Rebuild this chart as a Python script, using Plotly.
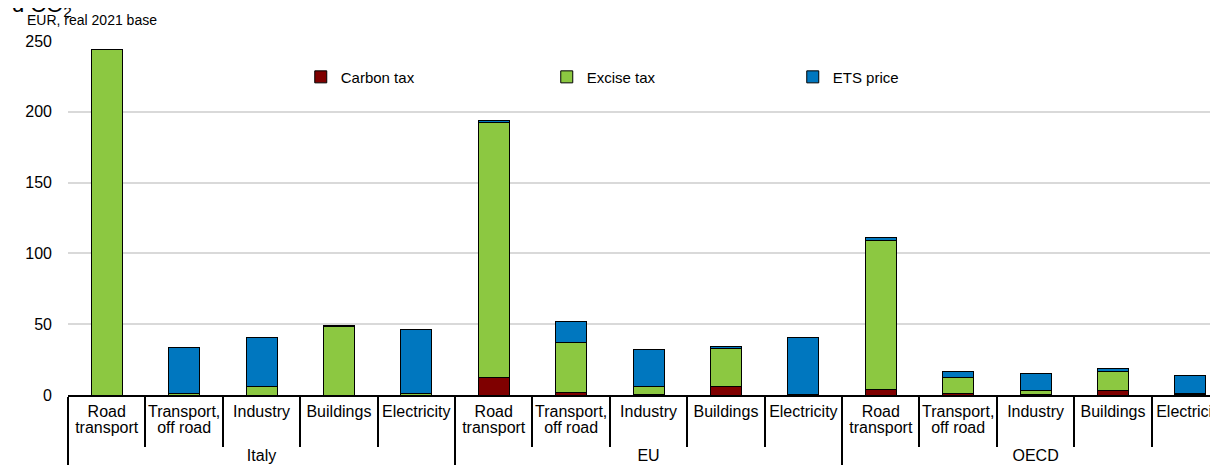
import plotly.graph_objects as go

# Effective carbon rates by sector, EUR per tonne of CO2 (real 2021 base)
groups = ["Italy"] * 5 + ["EU"] * 5 + ["OECD"] * 5
sectors = ["Road<br>transport", "Transport,<br>off road", "Industry",
           "Buildings", "Electricity"] * 3

carbon_tax = [0, 0, 0, 0, 0,
              12.5, 1.5, 0.6, 5.7, 0.3,
              3.8, 1.2, 0.3, 3.5, 0.2]
excise_tax = [244, 1.2, 5.7, 48.3, 1.2,
              180, 35.3, 5.6, 27.1, 0,
              105.2, 11.1, 2.8, 13, 1.2]
ets_price = [0, 32.1, 34.6, 0.5, 45.1,
             1.4, 14.9, 26.1, 1.7, 40,
             2.4, 4.2, 12.3, 2.2, 12.5]

series = [("Carbon tax", carbon_tax, "#7F0000"),
          ("Excise tax", excise_tax, "#8CC841"),
          ("ETS price", ets_price, "#0077BF")]

FONT = "Liberation Sans, Arial, sans-serif"


def big(label):
    # larger glyphs, tighter line spacing (spacing follows the 12px base font)
    return "<br>".join(f"<span style='font-size:16px'>{p}</span>" if p else ""
                       for p in label.split("<br>"))


group_labels = [big("<br>" + g) for g in groups]
sector_labels = [big(s) for s in sectors]

fig = go.Figure()
for name, vals, color in series:
    fig.add_trace(go.Bar(
        x=[group_labels, sector_labels],
        y=vals, name=name,
        marker=dict(color=color, line=dict(color="black", width=1)),
        width=0.4,
    ))

fig.update_layout(
    barmode="stack",
    width=1218, height=469,
    margin=dict(l=60, r=0, t=33, b=82, autoexpand=False),
    plot_bgcolor="white", paper_bgcolor="white",
    font=dict(family=FONT, size=16, color="black"),
    legend=dict(orientation="h", x=0.201, y=0.898, yanchor="middle",
                xanchor="left", entrywidth=201, entrywidthmode="pixels",
                font=dict(size=15), traceorder="normal",
                bgcolor="rgba(0,0,0,0)"),
    showlegend=True,
)

fig.update_xaxes(
    type="multicategory",
    range=[-0.5, 14.46],
    automargin=False, tickangle=0,
    showline=True, linecolor="black", linewidth=1.5,
    ticks="outside", ticklen=50, tickcolor="black", tickwidth=1.5,
    showdividers=True, dividercolor="black", dividerwidth=1.5,
    showgrid=False,
    tickfont=dict(size=12),
    ticklabelstandoff=6,
)
fig.update_yaxes(
    range=[0, 250], dtick=50,
    automargin=False,
    showgrid=True, gridcolor="#D9D9D9", gridwidth=1.5,
    zeroline=False, showline=False, ticks="",
    ticklabelstandoff=15,
    tickfont=dict(size=16),
)

fig.add_annotation(text="EUR, real 2021 base", xref="paper", yref="paper",
                   x=-0.0371, y=1.0594, xanchor="left", yanchor="middle",
                   showarrow=False, font=dict(size=14))
fig.add_annotation(text="d CO<sub>2</sub>", xref="paper", yref="paper",
                   x=-0.050, y=1.099, xanchor="left", yanchor="middle",
                   showarrow=False, font=dict(size=22))

fig.write_html("out.html")
